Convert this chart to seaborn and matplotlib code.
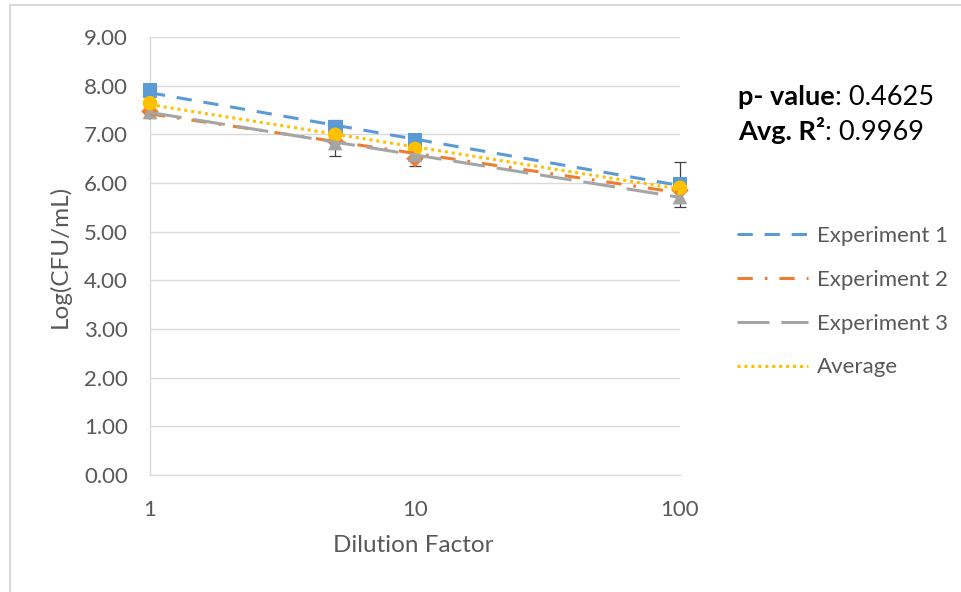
import numpy as np
import pandas as pd
import matplotlib
matplotlib.use("Agg")
import matplotlib.pyplot as plt
from matplotlib.patches import Rectangle
import seaborn as sns

# ---- data ----
dilution = [1, 5, 10, 100]
exp1 = [7.90, 7.14, 6.87, 5.98]
exp2 = [7.47, 6.86, 6.50, 5.85]
exp3 = [7.46, 6.82, 6.58, 5.71]
average = [7.64, 6.99, 6.70, 5.90]
avg_err_low = [0.31, 0.44, 0.35, 0.39]
avg_err_high = [0.30, 0.30, 0.30, 0.53]
series_names = ["Experiment 1", "Experiment 2", "Experiment 3", "Average"]
y_ticks = [0, 1, 2, 3, 4, 5, 6, 7, 8, 9]
x_ticks = [1, 10, 100]
p_value_text = "0.4625"
r2_text = "0.9969"

sns.set_theme(style="white")
plt.rcParams["font.family"] = ["Lato", "DejaVu Sans"]
plt.rcParams["lines.scale_dashes"] = False

colors = ["#5B9BD5", "#ED7D31", "#A5A5A5", "#FFC000"]
markers = ["s", "D", "^", "o"]
dashes = [(0, (11, 8.5)), (0, (11, 8.6, 2, 8.6)), (0, (23, 8.6)), (0, (2.2, 2.8))]

fig = plt.figure(figsize=(9.61, 5.92), dpi=100)
ax = fig.add_axes([150 / 961, 1 - 475 / 592, 530 / 961, 438 / 592])

# chart border
fig.patches.append(Rectangle((10 / 961, -0.05), 1.2, (1 - 5 / 592) + 0.05,
                             transform=fig.transFigure, fill=False,
                             edgecolor="#D9D9D9", linewidth=1.5))

all_series = [exp1, exp2, exp3, average]
df = pd.DataFrame({"Dilution": dilution * 4,
                   "Log": exp1 + exp2 + exp3 + average,
                   "Series": sum([[n] * len(dilution) for n in series_names], [])})

ax.set_xscale("log")

# error bars (average)
ax.errorbar(dilution, average, yerr=[avg_err_low, avg_err_high], fmt="none",
            ecolor="#404040", elinewidth=0.9, capsize=4, capthick=0.9, zorder=2,
            clip_on=False)

# markers
for name, c, m in zip(series_names, colors, markers):
    sub = df[df["Series"] == name]
    sns.scatterplot(data=sub, x="Dilution", y="Log", ax=ax, color=c, marker=m,
                    s=110 if m != "D" else 80, edgecolor="none", zorder=3,
                    clip_on=False, legend=False)

# logarithmic trendlines
handles = []
for name, vals, c, ls in zip(series_names, all_series, colors, dashes):
    sns.regplot(x=np.array(dilution, dtype=float), y=np.array(vals), logx=True,
                scatter=False, ci=None, ax=ax, label=name,
                line_kws=dict(color=c, linestyle=ls, linewidth=2.2, zorder=4))
    handles.append(ax.lines[-1])

ax.set_xlim(1, 100)
ax.set_ylim(0, 9)
ax.set_xticks(x_ticks)
ax.set_xticklabels([str(t) for t in x_ticks])
ax.xaxis.set_minor_locator(matplotlib.ticker.NullLocator())
ax.set_yticks(y_ticks)
ax.set_yticklabels([f"{t:.2f}" for t in y_ticks])
ax.tick_params(axis="both", length=0, labelsize=16, labelcolor="#595959")
ax.tick_params(axis="y", pad=16)
ax.tick_params(axis="x", pad=18)
ax.yaxis.grid(True, color="#D9D9D9", linewidth=1)
ax.xaxis.grid(False)
for s in ["top", "right"]:
    ax.spines[s].set_visible(False)
for s in ["left", "bottom"]:
    ax.spines[s].set_color("#D9D9D9")
    ax.spines[s].set_linewidth(1)

ax.set_xlabel("Dilution Factor", fontsize=17.5, color="#595959")
ax.set_ylabel("Log(CFU/mL)", fontsize=17.5, color="#595959")
ax.xaxis.set_label_coords(0.496, -0.137)
ax.yaxis.set_label_coords(-0.15, 0.5)

leg = fig.legend(handles=handles, labels=series_names, loc="upper left",
                 bbox_to_anchor=(717 / 961, 1 - 206 / 592), frameon=False,
                 fontsize=16, handlelength=3.2, handletextpad=0.4,
                 labelspacing=1.07)
for t in leg.get_texts():
    t.set_color("#595959")

# annotation with mixed bold / regular
fig.canvas.draw()
renderer = fig.canvas.get_renderer()
x0 = 738 / 961
for lbl, val, yy in [("p- value", p_value_text, 1 - 105 / 592),
                     ("Avg. R²", r2_text, 1 - 140 / 592)]:
    tb = fig.text(x0, yy, lbl, fontsize=19.5, fontweight="bold", color="black",
                  ha="left", va="baseline")
    bb = tb.get_window_extent(renderer=renderer)
    fig.text(bb.x1 / fig.bbox.width, yy, ": " + val, fontsize=19.5,
             color="black", ha="left", va="baseline")

fig.savefig("out.png", dpi=100)
